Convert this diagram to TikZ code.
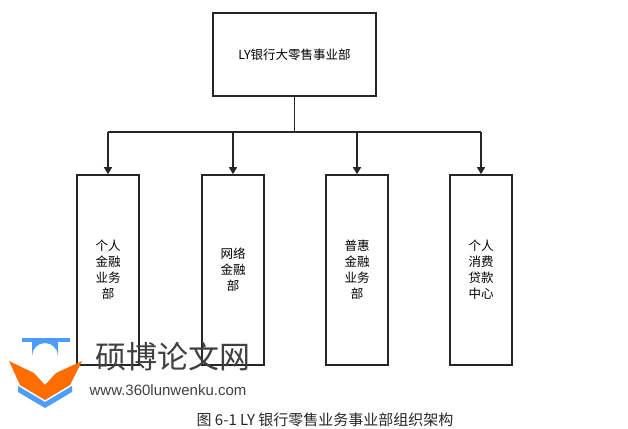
\documentclass[tikz,border=0pt]{standalone}
\usepackage{fontspec}
\newfontfamily\cjk{Noto Sans CJK SC}
\usetikzlibrary{arrows.meta}
\begin{document}
\begin{tikzpicture}[x=1pt,y=-1pt,
 box/.style={draw=black!85,line width=1.6pt,inner sep=0pt,font=\cjk\fontsize{12.5}{16}\selectfont,align=center},
 arr/.style={draw=black!85,line width=1.6pt,-{Triangle[length=7pt,width=8pt]}}]
\useasboundingbox (0,0) rectangle (628,428);
\node[box,minimum width=163pt,minimum height=83pt] (top) at (294.5,54.5) {LY银行大零售事业部};
\node[box,minimum width=62pt,minimum height=190pt] (a) at (108,270) {个人\\金融\\业务\\部};
\node[box,minimum width=62pt,minimum height=190pt] (b) at (233,270) {网络\\金融\\部};
\node[box,minimum width=62pt,minimum height=190pt] (c) at (357,270) {普惠\\金融\\业务\\部};
\node[box,minimum width=62pt,minimum height=190pt] (d) at (481,270) {个人\\消费\\贷款\\中心};
\coordinate (j) at (294.5,132);
\draw[draw=black!85,line width=1pt] (top.south) -- (j);
\draw[draw=black!85,line width=1.6pt] (a.north|-j) -- (d.north|-j);
\foreach \n in {a,b,c,d} \draw[arr] (\n.north|-j) -- (\n.north);
% watermark logo
\fill[orange!85!red] (9,361) -- (34,373) -- (45,385) -- (56,373) -- (82,361) -- (70,385) -- (45,400) -- (20,385) -- cycle;
\fill[blue!55!cyan!70] (18,386) -- (45,402) -- (72,386) -- (72,392) -- (45,408) -- (18,392) -- cycle;
\fill[blue!55!cyan!70] (22,338) rectangle (70,342);
\fill[blue!55!cyan!70] (32,342) -- (58,342) -- (58,356) arc (0:-180:13) -- cycle;
\node[font=\cjk\fontsize{31}{31}\selectfont,text=black!75] (wm) at (173,357) {硕博论文网};
\node[font=\fontspec{Liberation Sans}\fontsize{15}{15}\selectfont,text=black!75] (url) at (168,390) {www.360lunwenku.com};
\node[font=\cjk\fontsize{15}{16}\selectfont,text=black!85] (cap) at (325,420) {图 6-1 LY 银行零售业务事业部组织架构};
\end{tikzpicture}
\end{document}
